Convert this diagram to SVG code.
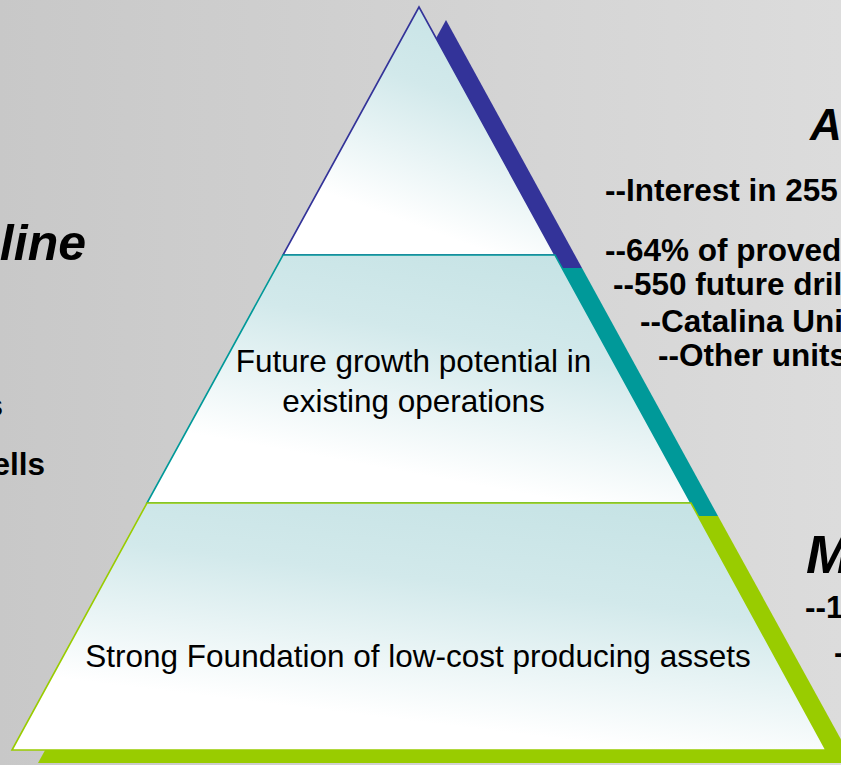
<svg xmlns="http://www.w3.org/2000/svg" width="841" height="765" viewBox="0 0 841 765">
  <defs>
    <linearGradient id="bg" x1="0" y1="0" x2="1" y2="0">
      <stop offset="0" stop-color="#C8C8C8"/>
      <stop offset="1" stop-color="#DCDCDC"/>
    </linearGradient>
    <linearGradient id="tierFill" x1="0.75" y1="0" x2="0.35" y2="1">
      <stop offset="0" stop-color="#C6E3E5"/>
      <stop offset="0.35" stop-color="#D2E9EB"/>
      <stop offset="0.85" stop-color="#FFFFFF"/>
      <stop offset="1" stop-color="#FFFFFF"/>
    </linearGradient>
  </defs>
  <style>
    .t { font-family: "Liberation Sans", Arial, sans-serif; fill: #000; }
    .tier { fill: url(#tierFill); stroke-width: 1.6; stroke-linejoin: miter; }
    .lbl { font-size: 31.5px; text-anchor: middle; }
    .b { font-size: 31.5px; font-weight: bold; }
    .h { font-weight: bold; font-style: italic; }
  </style>

  <rect x="0" y="0" width="841" height="765" fill="url(#bg)"/>

  <g id="shadows">
    <polygon points="446,20 310,268 582,268" fill="#333399"/>
    <polygon points="310,268 582,268 718,516 174,516" fill="#009999"/>
    <polygon points="174,516 718,516 854,763 38,763" fill="#99CC00"/>
  </g>

  <g id="tier-top">
    <polygon class="tier" points="419,7 283,255 555,255" stroke="#333399"/>
  </g>

  <g id="tier-middle">
    <polygon class="tier" points="283,255 555,255 691,503 147,503" stroke="#009999"/>
    <text class="t lbl" x="413.5" y="372">Future growth potential in</text>
    <text class="t lbl" x="413.5" y="412">existing operations</text>
  </g>

  <g id="tier-bottom">
    <polygon class="tier" points="147,503 691,503 826,750 12,750" stroke="#99CC00"/>
    <text class="t lbl" x="418" y="667">Strong Foundation of low-cost producing assets</text>
  </g>

  <g id="left-text">
    <text class="t h" x="86" y="260" font-size="50" text-anchor="end">line</text>
    <text class="t b" x="3" y="416" text-anchor="end">s</text>
    <text class="t b" x="45" y="475" text-anchor="end">ells</text>
  </g>

  <g id="right-text-top">
    <text class="t h" x="810" y="140" font-size="44">A</text>
    <text class="t b" x="605" y="201">--Interest in 255</text>
    <text class="t b" x="605" y="261">--64% of proved</text>
    <text class="t b" x="613" y="295">--550 future dril</text>
    <text class="t b" x="640" y="332">--Catalina Uni</text>
    <text class="t b" x="658" y="366">--Other units</text>
  </g>

  <g id="right-text-bottom">
    <text class="t h" x="806" y="573" font-size="54">M</text>
    <text class="t b" x="805" y="618">--1</text>
    <text class="t b" x="834" y="663">-</text>
  </g>
</svg>
